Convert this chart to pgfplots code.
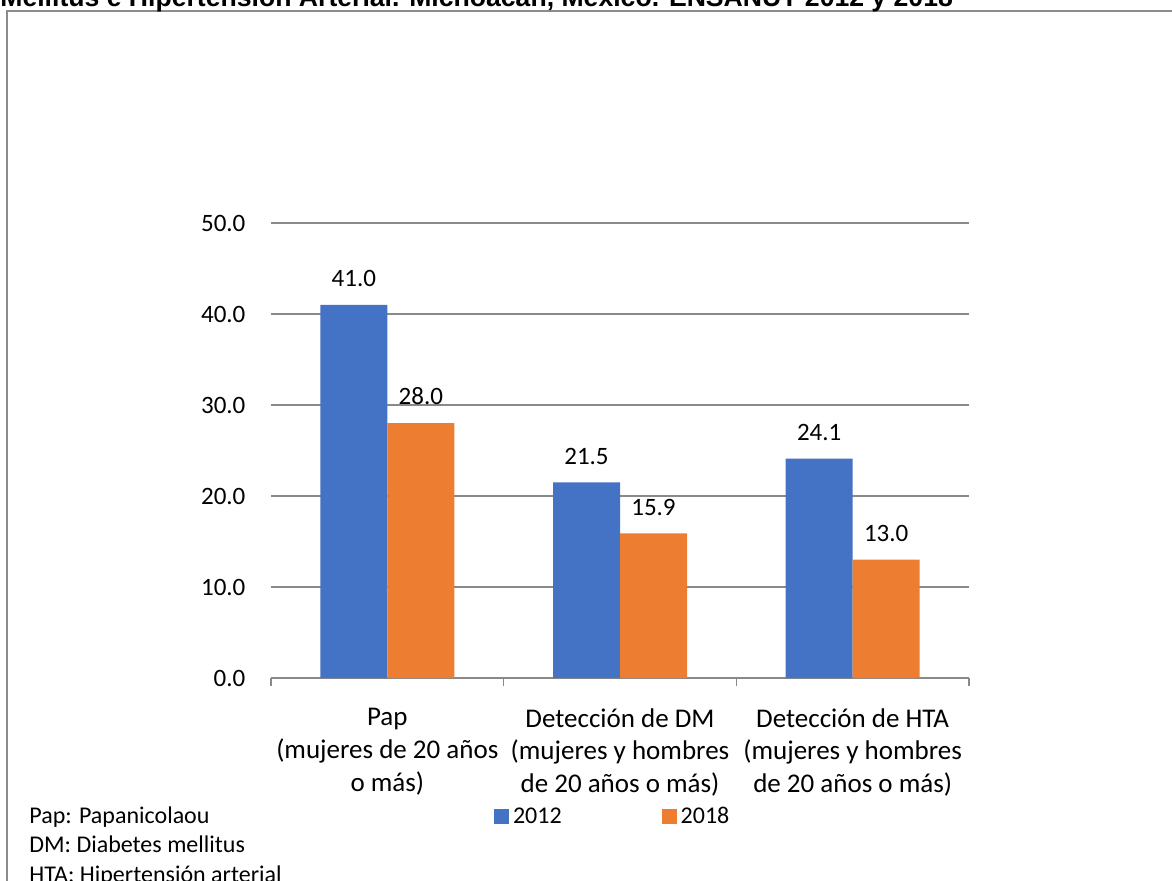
\documentclass[border=0pt]{standalone}
\usepackage{fontspec}
\setmainfont{Carlito}
\newfontfamily\titlefont{Liberation Sans}
\usepackage{pgfplots}
\pgfplotsset{compat=1.18}

\definecolor{bar2012}{HTML}{4472C4}
\definecolor{bar2018}{HTML}{ED7D31}
\definecolor{gridgray}{HTML}{898989}
\definecolor{framegray}{HTML}{8C8C8C}

\begin{document}
\begin{tikzpicture}[x=0.5pt,y=0.5pt]
  \path[use as bounding box] (0,0) rectangle (1172,880);
  \clip (0,0) rectangle (1172,880);
  % outer frame of the chart area
  \draw[framegray, line width=0.9pt] (7,-20) -- (7,869) -- (1190,869);
  % title (runs above the frame)
  \node[anchor=base west, inner sep=0pt, font=\titlefont\bfseries\fontsize{13.3}{15}\selectfont]
    at (0,873) {Mellitus e Hipertensión Arterial. Michoacán, México. ENSANUT 2012 y 2018};

  \begin{axis}[
    at={(135.5pt,101pt)}, anchor=south west,
    scale only axis, width=349pt, height=227.5pt,
    ymin=0, ymax=50, ytick={0,10,...,50},
    xmin=-0.5, xmax=2.5,
    xtick={0,1,2},
    xticklabels={{Pap\\(mujeres de 20 años\\o más)},
                 {Detección de DM\\(mujeres y hombres\\de 20 años o más)},
                 {Detección de HTA\\(mujeres y hombres\\de 20 años o más)}},
    minor xtick={-0.5,0.5,1.5,2.5},
    major x tick style={draw=none},
    minor x tick style={gridgray, line width=0.75pt},
    minor tick length=4pt,
    tick align=outside,
    axis x line*=bottom, axis y line*=left,
    x axis line style={gridgray, line width=0.75pt, -},
    y axis line style={draw=none},
    ytick style={draw=none},
    ymajorgrids, grid style={gridgray, line width=0.75pt},
    ybar=0pt, bar width=33.5pt,
    font=\fontsize{12.5}{16}\selectfont,
    yticklabel style={/pgf/number format/.cd, fixed, fixed zerofill, precision=1, assume math mode=true,
                      /tikz/.cd, xshift=-5pt, font=\fontsize{12.5}{16}\selectfont},
    xticklabel style={align=center, font=\fontsize{13.5}{16.3}\selectfont, yshift=-7.5pt},
    nodes near coords,
    nodes near coords style={/pgf/number format/.cd, fixed, fixed zerofill, precision=1, assume math mode=true,
                      /tikz/.cd, font=\fontsize{12.5}{16}\selectfont, yshift=5.5pt, text=black},
    legend columns=2,
    legend style={at={(0.491,-0.305)}, anchor=center, draw=none, fill=none,
                  font=\fontsize{12}{16}\selectfont,
                  /tikz/every even column/.append style={column sep=48pt}},
    legend image code/.code={\fill[#1] (0pt,-3.75pt) rectangle (7.5pt,3.75pt);},
    clip=false,
  ]
    \addplot[fill=bar2012, draw=none] coordinates {(0,41.0) (1,21.5) (2,24.1)};
    \addplot[fill=bar2018, draw=none] coordinates {(0,28.0) (1,15.9) (2,13.0)};
    \legend{2012,2018}
  \end{axis}

  % abbreviations
  \begin{scope}[every node/.style={anchor=base west, inner sep=0pt, font=\fontsize{12}{15}\selectfont}]
    \node at (29,57) {Pap: Papanicolaou};
    \node at (29,28) {DM: Diabetes mellitus};
    \node at (29,-2) {HTA: Hipertensión arterial};
  \end{scope}
\end{tikzpicture}
\end{document}
